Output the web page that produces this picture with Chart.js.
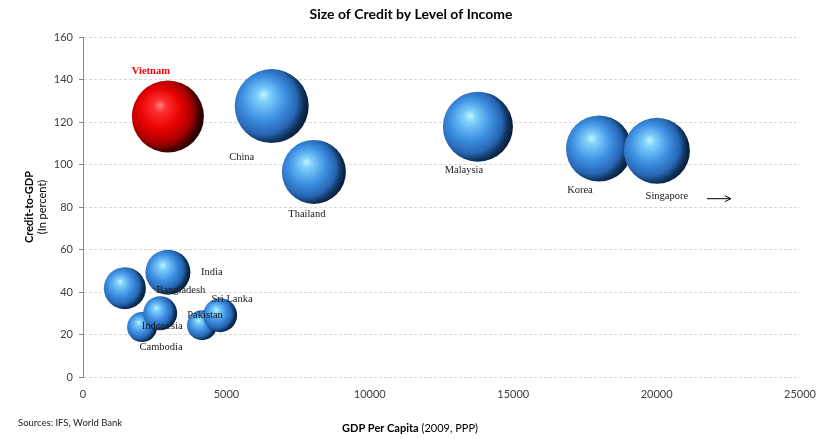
<!DOCTYPE html>
<html>
<head>
<meta charset="UTF-8">
<title>Size of Credit by Level of Income</title>
<script src="https://cdn.jsdelivr.net/npm/chart.js"></script>
<style>
  html, body { margin: 0; padding: 0; background: #fff; }
</style>
</head>
<body>
<canvas id="creditChart" width="838" height="439"></canvas>
<script>
// values (drawing order: back to front)
const countries    = ['Bangladesh', 'India', 'Cambodia', 'Indonesia', 'Pakistan', 'Sri Lanka',
                      'Vietnam', 'China', 'Thailand', 'Malaysia', 'Korea', 'Singapore'];
const gdpPerCapita = [1460, 2960, 2060, 2690, 4150, 4780, 2960, 6580, 8050, 13770, 17990, 20010];
const creditToGdp  = [41.8, 49.3, 23.5, 30.0, 24.4, 29.1, 122.6, 127.5, 96.5, 117.8, 107.5, 106.5];
const bubbleSize   = [21, 22.5, 15, 17, 15, 17, 36, 37, 32, 35, 33, 33];
const xTicks = [0, 5000, 10000, 15000, 20000, 25000];
const yTicks = [0, 20, 40, 60, 80, 100, 120, 140, 160];

// where each country name sits relative to its bubble
const labelPlace = {
  'Vietnam':    { dx: -17, dy: -45, color: '#ff0000', bold: true },
  'China':      { dx: -30, dy: 51 },
  'Thailand':   { dx: -7,  dy: 42 },
  'Malaysia':   { dx: -14, dy: 44 },
  'Korea':      { dx: -19, dy: 42 },
  'Singapore':  { dx: 10,  dy: 46 },
  'India':      { dx: 44,  dy: 0 },
  'Bangladesh': { dx: 56,  dy: 2 },
  'Sri Lanka':  { dx: 12,  dy: -16 },
  'Pakistan':   { dx: 3,   dy: -10 },
  'Indonesia':  { dx: 2,   dy: 13 },
  'Cambodia':   { dx: 19,  dy: 20 }
};

const sansFont = 'Lato, "Open Sans", sans-serif';
const serifFont = '"Liberation Serif", "DejaVu Serif", serif';

function sphereFill(ctx) {
  const chart = ctx.chart;
  const i = ctx.dataIndex;
  const xs = chart.scales.x, ys = chart.scales.y;
  const red = countries[i] === 'Vietnam';
  const flat = red ? '#e00000' : '#3d8fe0';
  if (!xs || !ys || i === undefined) return flat;
  const cx = xs.getPixelForValue(gdpPerCapita[i]);
  const cy = ys.getPixelForValue(creditToGdp[i]);
  const r = bubbleSize[i];
  if (!isFinite(cx) || !isFinite(cy)) return flat;
  const g = chart.ctx.createRadialGradient(cx - 0.22 * r, cy - 0.32 * r, 0, cx - 0.22 * r, cy - 0.08 * r, 1.22 * r);
  if (red) {
    g.addColorStop(0, '#ff8a8a');
    g.addColorStop(0.14, '#ff3030');
    g.addColorStop(0.48, '#e60000');
    g.addColorStop(0.74, '#a30000');
    g.addColorStop(0.88, '#4a0000');
    g.addColorStop(1, '#200000');
  } else {
    g.addColorStop(0, '#bff8ff');
    g.addColorStop(0.14, '#80d0fb');
    g.addColorStop(0.48, '#3e90e3');
    g.addColorStop(0.74, '#2766b3');
    g.addColorStop(0.88, '#0f355f');
    g.addColorStop(1, '#061a34');
  }
  return g;
}

const annotations = {
  id: 'annotations',
  afterDatasetsDraw(chart) {
    const c = chart.ctx, xs = chart.scales.x, ys = chart.scales.y;
    c.save();
    c.textAlign = 'center';
    c.textBaseline = 'middle';
    countries.forEach((name, i) => {
      const p = labelPlace[name];
      const px = xs.getPixelForValue(gdpPerCapita[i]) + p.dx;
      const py = ys.getPixelForValue(creditToGdp[i]) + p.dy;
      c.font = (p.bold ? 'bold ' : '') + '10.5px ' + serifFont;
      c.fillStyle = p.color || '#1a1a1a';
      c.fillText(name, px, py);
    });
    // arrow to the right of Singapore
    const k = countries.indexOf('Singapore');
    const ax = xs.getPixelForValue(gdpPerCapita[k]) + 50;
    const ay = ys.getPixelForValue(creditToGdp[k]) + 48;
    c.strokeStyle = '#000';
    c.lineWidth = 1;
    c.beginPath();
    c.moveTo(ax, ay);
    c.lineTo(ax + 24, ay);
    c.moveTo(ax + 18, ay - 3);
    c.lineTo(ax + 24, ay);
    c.lineTo(ax + 18, ay + 3);
    c.stroke();
    c.restore();
  },
  afterDraw(chart) {
    const c = chart.ctx;
    c.save();
    c.fillStyle = '#000';
    c.textBaseline = 'middle';
    c.textAlign = 'center';
    c.font = 'bold 14px ' + sansFont;
    c.fillText('Size of Credit by Level of Income', 411, 14);

    // y axis title, two lines
    c.save();
    c.translate(29, 207);
    c.rotate(-Math.PI / 2);
    c.font = 'bold 11px ' + sansFont;
    c.fillText('Credit-to-GDP', 0, 0);
    c.font = '11px ' + sansFont;
    c.fillText('(In percent)', 0, 13);
    c.restore();

    // x axis title, bold + normal
    const boldPart = 'GDP Per Capita', normPart = ' (2009, PPP)';
    c.font = 'bold 11px ' + sansFont;
    const w1 = c.measureText(boldPart).width;
    c.font = '11px ' + sansFont;
    const w2 = c.measureText(normPart).width;
    let x0 = 410 - (w1 + w2) / 2;
    c.textAlign = 'left';
    c.font = 'bold 11px ' + sansFont;
    c.fillText(boldPart, x0, 428);
    c.font = '11px ' + sansFont;
    c.fillText(normPart, x0 + w1, 428);

    c.font = '9.5px ' + sansFont;
    c.fillStyle = '#222';
    c.fillText('Sources: IFS, World Bank', 18, 423);
    c.restore();
  }
};

const ctx = document.getElementById('creditChart');
new Chart(ctx, {
  type: 'bubble',
  data: {
    datasets: [{
      label: 'Credit-to-GDP',
      data: countries.map((n, i) => ({ x: gdpPerCapita[i], y: creditToGdp[i], r: bubbleSize[i] })),
      backgroundColor: sphereFill,
      borderWidth: 0
    }]
  },
  options: {
    responsive: false,
    animation: false,
    events: [],
    layout: { padding: { left: 0, right: 38, top: 36, bottom: 22 } },
    plugins: {
      legend: { display: false },
      tooltip: { enabled: false },
      title: { display: false }
    },
    scales: {
      x: {
        type: 'linear',
        min: 0,
        max: 25000,
        afterBuildTicks: s => { s.ticks = xTicks.map(v => ({ value: v })); },
        afterFit: s => { s.height = 40; },
        grid: { display: false, drawTicks: false },
        border: { display: false },
        ticks: {
          padding: 11,
          color: '#404040',
          font: { family: sansFont, size: 11 },
          maxRotation: 0,
          callback: v => String(v)
        }
      },
      y: {
        type: 'linear',
        min: 0,
        max: 160,
        afterBuildTicks: s => { s.ticks = yTicks.map(v => ({ value: v })); },
        afterFit: s => { s.width = 83; },
        grid: { color: '#d9d9d9', tickColor: '#888', tickLength: 4, lineWidth: 1 },
        border: { display: true, color: '#888', width: 1, dash: [3, 2] },
        ticks: {
          padding: 6,
          color: '#404040',
          font: { family: sansFont, size: 11 },
          callback: v => String(v)
        }
      }
    }
  },
  plugins: [annotations]
});
</script>
</body>
</html>
